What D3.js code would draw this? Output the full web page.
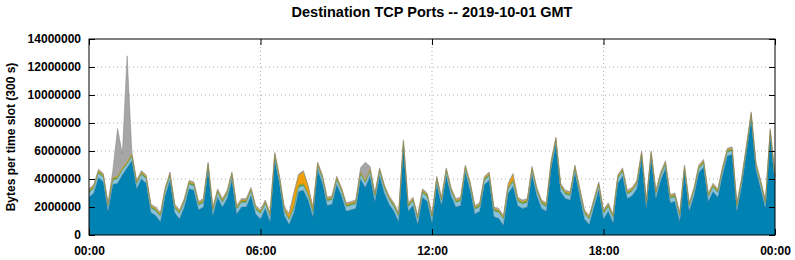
<!DOCTYPE html>
<html>
<head>
<meta charset="utf-8">
<script src="https://cdn.jsdelivr.net/npm/d3@7"></script>
<style>
  body { margin: 0; background: #fff; }
  text { font-family: "Liberation Sans", Arial, sans-serif; font-weight: bold; fill: #000; }
</style>
</head>
<body>
<svg width="795" height="260"></svg>
<script>
// one value every 10 minutes, 00:00 .. 24:00, in millions of bytes per 300 s slot
var portMain = [2.7,3.0,4.1,3.8,1.7,3.6,3.7,4.3,4.8,5.3,
  3.3,4.0,3.7,1.6,1.4,0.95,2.8,3.9,1.6,1.15,
  2.0,3.3,3.2,1.8,2.0,4.65,1.4,2.7,2.0,2.6,
  3.9,1.5,2.0,2.0,2.8,1.5,1.15,1.9,0.95,5.35,
  3.6,1.4,0.75,1.6,3.1,3.2,2.5,1.28,4.65,3.7,
  2.1,2.2,3.6,2.8,1.7,1.8,1.9,4.0,3.4,4.2,
  2.4,4.2,3.0,2.2,1.7,0.95,6.25,1.7,2.1,0.75,
  2.7,2.4,0.85,3.6,2.1,4.2,2.8,2.0,2.1,4.45,
  3.2,1.5,1.7,3.6,3.9,1.3,1.2,0.7,2.98,3.48,
  2.1,1.9,2.0,4.3,2.8,1.9,1.7,4.75,6.45,3.1,
  2.6,2.5,4.45,2.8,1.15,0.75,2.0,3.2,1.15,1.7,
  0.85,3.7,4.2,2.6,2.8,3.3,5.45,1.9,5.45,2.6,
  3.9,4.75,2.3,2.4,0.95,4.45,1.7,2.8,4.45,4.85,
  2.4,3.1,2.7,4.3,5.65,5.75,1.7,3.5,5.85,8.25,
  4.65,3.3,1.9,7.05,3.7];
var portLight = [0.3,0.3,0.3,0.3,0.3,0.3,0.3,0.3,0.25,0.25,
  0.3,0.3,0.3,0.3,0.3,0.35,0.3,0.3,0.3,0.35,
  0.3,0.3,0.3,0.3,0.3,0.25,0.3,0.3,0.3,0.3,
  0.3,0.3,0.3,0.3,0.3,0.3,0.35,0.3,0.35,0.25,
  0.3,0.3,0.3,0.3,0.3,0.3,0.3,0.3,0.25,0.3,
  0.3,0.3,0.3,0.3,0.3,0.3,0.3,0.3,0.3,0.3,
  0.3,0.3,0.3,0.3,0.3,0.35,0.25,0.3,0.3,0.35,
  0.3,0.3,0.35,0.3,0.3,0.3,0.3,0.3,0.3,0.25,
  0.3,0.3,0.3,0.3,0.3,0.4,0.4,0.4,0.3,0.3,
  0.3,0.3,0.3,0.3,0.3,0.3,0.3,0.25,0.25,0.3,
  0.3,0.3,0.25,0.3,0.35,0.35,0.3,0.3,0.35,0.3,
  0.35,0.3,0.3,0.3,0.3,0.3,0.25,0.3,0.25,0.3,
  0.3,0.25,0.3,0.3,0.35,0.25,0.3,0.3,0.25,0.25,
  0.3,0.3,0.3,0.3,0.25,0.25,0.3,0.3,0.25,0.25,
  0.25,0.3,0.3,0.25,0.3];
var portGreen = [0.12,0.12,0.12,0.12,0.12,0.12,0.12,0.12,0.12,0.12,
  0.12,0.12,0.12,0.12,0.12,0.12,0.12,0.12,0.12,0.12,
  0.12,0.12,0.12,0.12,0.12,0.12,0.12,0.12,0.12,0.12,
  0.12,0.12,0.12,0.12,0.12,0.12,0.12,0.12,0.12,0.12,
  0.12,0.12,0.1,0.12,0.15,0.15,0.15,0.12,0.12,0.12,
  0.12,0.12,0.12,0.12,0.12,0.12,0.12,0.12,0.12,0.12,
  0.12,0.12,0.12,0.12,0.12,0.12,0.12,0.12,0.12,0.12,
  0.12,0.12,0.12,0.12,0.12,0.12,0.12,0.12,0.12,0.12,
  0.12,0.12,0.12,0.12,0.12,0.12,0.12,0.12,0.12,0.12,
  0.12,0.12,0.12,0.12,0.12,0.12,0.12,0.12,0.12,0.12,
  0.12,0.12,0.12,0.12,0.12,0.12,0.12,0.12,0.12,0.12,
  0.12,0.12,0.12,0.12,0.12,0.12,0.12,0.12,0.12,0.12,
  0.12,0.12,0.12,0.12,0.12,0.12,0.12,0.12,0.12,0.12,
  0.12,0.12,0.12,0.12,0.12,0.12,0.12,0.12,0.12,0.12,
  0.12,0.12,0.12,0.12,0.12];
var portOrange = [0.08,0.08,0.08,0.08,0.08,0.08,0.08,0.08,0.08,0.08,
  0.08,0.08,0.08,0.08,0.08,0.08,0.08,0.08,0.08,0.08,
  0.08,0.08,0.08,0.08,0.08,0.08,0.08,0.08,0.08,0.08,
  0.08,0.08,0.08,0.08,0.08,0.08,0.08,0.08,0.08,0.08,
  0.08,0.08,0.3,0.9,0.7,0.85,0.5,0.2,0.08,0.08,
  0.08,0.08,0.08,0.08,0.08,0.08,0.08,0.08,0.08,0.08,
  0.08,0.08,0.08,0.08,0.08,0.08,0.08,0.08,0.08,0.08,
  0.08,0.08,0.08,0.08,0.08,0.08,0.08,0.08,0.08,0.08,
  0.08,0.08,0.08,0.08,0.08,0.08,0.08,0.08,0.2,0.4,
  0.08,0.08,0.08,0.08,0.08,0.08,0.08,0.08,0.08,0.08,
  0.08,0.08,0.08,0.08,0.08,0.08,0.08,0.08,0.08,0.08,
  0.08,0.08,0.08,0.08,0.08,0.08,0.08,0.08,0.08,0.08,
  0.08,0.08,0.08,0.08,0.08,0.08,0.08,0.08,0.08,0.08,
  0.08,0.08,0.08,0.08,0.08,0.08,0.08,0.08,0.08,0.08,
  0.08,0.08,0.08,0.08,0.08];
var portGrey = [0.1,0.1,0.1,0.1,0.1,0.5,3.4,1.0,7.55,0.15,
  0.1,0.1,0.1,0.1,0.1,0.1,0.1,0.1,0.1,0.1,
  0.1,0.1,0.1,0.1,0.1,0.1,0.1,0.1,0.1,0.1,
  0.1,0.1,0.1,0.1,0.1,0.1,0.1,0.1,0.1,0.1,
  0.1,0.1,0.1,0.1,0.1,0.1,0.1,0.1,0.1,0.1,
  0.1,0.1,0.1,0.1,0.1,0.1,0.1,0.3,1.3,0.2,
  0.1,0.1,0.1,0.1,0.1,0.1,0.1,0.1,0.1,0.1,
  0.1,0.1,0.1,0.1,0.1,0.1,0.1,0.1,0.1,0.1,
  0.1,0.1,0.1,0.1,0.1,0.1,0.1,0.1,0.1,0.1,
  0.1,0.1,0.1,0.1,0.1,0.1,0.1,0.1,0.1,0.1,
  0.1,0.1,0.1,0.1,0.1,0.1,0.1,0.1,0.1,0.1,
  0.1,0.1,0.1,0.1,0.1,0.1,0.1,0.1,0.1,0.1,
  0.1,0.1,0.1,0.1,0.1,0.1,0.1,0.1,0.1,0.1,
  0.1,0.1,0.1,0.1,0.1,0.1,0.1,0.1,0.1,0.1,
  0.1,0.1,0.1,0.1,0.1];

var keys = ["main", "light", "green", "orange", "grey"];
var fills = {main: "#0083b3", light: "#8cc3dc", green: "#5f9c3a", orange: "#ee9f0a", grey: "#a6a6a6"};
var lines = {main: "#2a6a8a", light: "#6aaacc", green: "#4f8a30", orange: "#c98a10", grey: "#808080"};
var yTicks = [0, 2, 4, 6, 8, 10, 12, 14];

var t0 = Date.UTC(2019, 9, 1, 0, 0);
var tabla = portMain.map(function(v, i) {
  return {
    t: new Date(t0 + i * 600000),
    main: v, light: portLight[i], green: portGreen[i], orange: portOrange[i], grey: portGrey[i]
  };
});

var W = 795, H = 260;
var m = {left: 89, right: 20, top: 39, bottom: 25};
var svg = d3.select("svg");

var x = d3.scaleUtc()
  .domain([new Date(t0), new Date(t0 + 86400000)])
  .range([m.left, W - m.right]);
var y = d3.scaleLinear().domain([0, 14]).range([H - m.bottom, m.top]);
var xTicks = d3.utcHour.every(6).range(new Date(t0), new Date(t0 + 86400001));

// rejilla punteada
svg.append("g").selectAll("line.gy")
  .data(yTicks.slice(1, -1)).enter().append("line")
  .attr("x1", m.left).attr("x2", W - m.right)
  .attr("y1", function(d) { return y(d); }).attr("y2", function(d) { return y(d); })
  .attr("stroke", "#b0b0b0").attr("stroke-dasharray", "1,3");
svg.append("g").selectAll("line.gx")
  .data(xTicks.slice(1, -1)).enter().append("line")
  .attr("y1", m.top).attr("y2", H - m.bottom)
  .attr("x1", function(d) { return x(d); }).attr("x2", function(d) { return x(d); })
  .attr("stroke", "#b0b0b0").attr("stroke-dasharray", "1,3");

// capas apiladas
var series = d3.stack().keys(keys)(tabla);
var area = d3.area()
  .x(function(d) { return x(d.data.t); })
  .y0(function(d) { return y(d[0]); })
  .y1(function(d) { return y(d[1]); });
var topLine = d3.line()
  .x(function(d) { return x(d.data.t); })
  .y(function(d) { return y(d[1]); });

svg.append("g").selectAll("path.area")
  .data(series).enter().append("path")
  .attr("d", area)
  .attr("fill", function(d) { return fills[d.key]; });
svg.append("g").selectAll("path.line")
  .data(series).enter().append("path")
  .attr("d", topLine)
  .attr("fill", "none")
  .attr("stroke", function(d) { return lines[d.key]; })
  .attr("stroke-width", 0.5);

// ejes con marcas hacia dentro, reflejadas
svg.append("g").attr("transform", "translate(" + m.left + ",0)")
  .call(d3.axisLeft(y).tickValues(yTicks).tickSizeInner(-6).tickSizeOuter(0).tickPadding(8)
    .tickFormat(function(d) { return d3.format("d")(d * 1000000); }))
  .call(function(g) { g.select(".domain").remove(); })
  .selectAll("text").style("font-size", "12px").style("font-family", "Liberation Sans, Arial, sans-serif").style("font-weight", "bold");
svg.append("g").attr("transform", "translate(" + (W - m.right) + ",0)")
  .call(d3.axisRight(y).tickValues(yTicks).tickSizeInner(-6).tickSizeOuter(0).tickFormat(""))
  .call(function(g) { g.select(".domain").remove(); });
svg.append("g").attr("transform", "translate(0," + (H - m.bottom) + ")")
  .call(d3.axisBottom(x).tickValues(xTicks).tickSizeInner(-6).tickSizeOuter(0).tickPadding(11)
    .tickFormat(d3.utcFormat("%H:%M")))
  .call(function(g) { g.select(".domain").remove(); })
  .selectAll("text").style("font-size", "12px").style("font-family", "Liberation Sans, Arial, sans-serif").style("font-weight", "bold");
svg.append("g").attr("transform", "translate(0," + m.top + ")")
  .call(d3.axisTop(x).tickValues(xTicks).tickSizeInner(-6).tickSizeOuter(0).tickFormat(""))
  .call(function(g) { g.select(".domain").remove(); });

svg.append("rect")
  .attr("x", m.left).attr("y", m.top)
  .attr("width", W - m.left - m.right).attr("height", H - m.top - m.bottom)
  .attr("fill", "none").attr("stroke", "#000").attr("stroke-width", 1);

svg.append("text")
  .attr("x", (m.left + W - m.right) / 2).attr("y", 17)
  .attr("text-anchor", "middle").style("font-size", "14.5px")
  .text("Destination TCP Ports -- 2019-10-01 GMT");
svg.append("text")
  .attr("transform", "translate(15," + ((m.top + H - m.bottom) / 2) + ") rotate(-90)")
  .attr("text-anchor", "middle").style("font-size", "12px")
  .text("Bytes per time slot (300 s)");
</script>
</body>
</html>
